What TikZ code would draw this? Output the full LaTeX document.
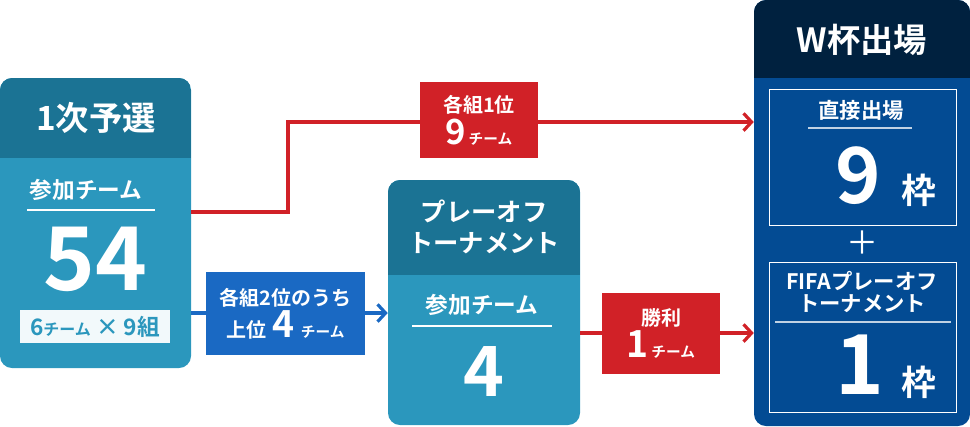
\documentclass[tikz,border=0pt]{standalone}
\usepackage{fontspec}
\setmainfont{Noto Sans CJK JP}[UprightFont=* Bold]
\newfontfamily\thinjp{Noto Sans CJK JP}
\usetikzlibrary{arrows.meta,positioning,calc}
\definecolor{hdrA}{HTML}{1B7394}
\definecolor{bodyA}{HTML}{2B97BD}
\definecolor{hdrW}{HTML}{00213F}
\definecolor{bodyW}{HTML}{034B93}
\definecolor{redL}{HTML}{D12127}
\definecolor{blueL}{HTML}{1A69C3}
\tikzset{
    x=0.75pt,y=-0.75pt,
    stagebox/.style={rounded corners=9pt, fill=bodyA, inner sep=0pt},
    tag/.style={inner sep=0pt, text=white, font=\fontsize{15}{24}\selectfont, align=center},
    txt/.style={text=white, inner sep=0pt, align=center},
    flow/.style={line width=2.4pt, -{Straight Barb[length=6pt,width=13pt,line width=2.4pt]}}
}

\begin{document}
\begin{tikzpicture}
    \useasboundingbox (0,0) rectangle (970,426);
    % stages
    \node[stagebox, minimum width=143.25pt, minimum height=217.5pt,
        path picture={\fill[hdrA, sharp corners] (path picture bounding box.north west) rectangle ([yshift=-60pt]path picture bounding box.north east);}] (first) at (95.5,223) {};
    \node[stagebox, minimum width=144pt, minimum height=183.75pt,
        path picture={\fill[hdrA, sharp corners] (path picture bounding box.north west) rectangle ([yshift=-71.25pt]path picture bounding box.north east);}] (playoff) at (484,302.5) {};
    \node[stagebox, fill=bodyW, minimum width=162pt, minimum height=319.5pt,
        path picture={\fill[hdrW, sharp corners] (path picture bounding box.north west) rectangle ([yshift=-58.5pt]path picture bounding box.north east);}] (wcup) at (862,213) {};

    % first round texts
    \node[txt, font=\fontsize{25}{28}\selectfont] (t1) at (96,118) {1次予選};
    \node[txt, font=\fontsize{17}{20}\selectfont] (p1) at (86,190) {参加チーム};
    \draw[white, line width=0.8pt] (27,210) -- (155,210);
    \node[txt, font=\fontsize{66}{66}\selectfont] (n1) at (95,259) {54};
    \node[fill=white!94!bodyA, text=bodyA, minimum width=112.5pt, minimum height=24.75pt, inner sep=0pt,
        font=\fontsize{17}{18}\selectfont] (grp) at (95,326.5) {6{\fontsize{12}{12}\selectfont チーム} × 9組};

    % playoff texts
    \node[txt, font=\fontsize{19}{23}\selectfont] (t2) at (484,227) {プレーオフ\\トーナメント};
    \node[txt, font=\fontsize{17}{20}\selectfont] (p2) at (482,305) {参加チーム};
    \draw[white, line width=0.8pt] (412,326) -- (552,326);
    \node[txt, font=\fontsize{52}{52}\selectfont] (n2) at (484,371) {4};

    % world cup texts
    \node[txt, font=\fontsize{25}{28}\selectfont] (t3) at (862,40) {W杯出場};
    \node[draw=white, line width=0.6pt, minimum width=140.25pt, minimum height=102pt] (direct) at (862.5,157) {};
    \node[draw=white, line width=0.6pt, minimum width=140.25pt, minimum height=112.5pt] (fifa) at (862.5,337) {};
    \node[txt, font=\fontsize{16}{18}\selectfont] (d1) at (861,110) {直接出場};
    \draw[white!75!bodyW, line width=0.8pt] (808,128) -- (912,128);
    \node[txt, font=\fontsize{58}{58}\selectfont] (n3) at (858,176) {9};
    \node[txt, font=\fontsize{26}{28}\selectfont] (k3) at (919,190) {枠};
    \node[txt, font=\thinjp\fontsize{24}{24}\selectfont] (plus) at (862,243) {＋};
    \node[txt, font=\fontsize{16}{17}\selectfont] (f1) at (862,292) {FIFAプレーオフ\\トーナメント};
    \draw[white!75!bodyW, line width=0.8pt] (775,322) -- (951,322);
    \node[txt, font=\fontsize{62}{62}\selectfont] (n4) at (860,365) {1};
    \node[txt, font=\fontsize{26}{28}\selectfont] (k4) at (919,382) {枠};

    % connectors
    \coordinate (bend1) at (288,212);
    \coordinate (bend2) at (288,122);
    \draw[flow, redL] (first.east |- bend1) -- (bend1) -- (bend2) -- (wcup.west |- bend2);
    \draw[flow, blueL] (first.east |- 0,313) -- (playoff.west |- 0,313);
    \draw[flow, redL] (playoff.east |- 0,333) -- (wcup.west |- 0,333);

    % tags
    \node[tag, fill=redL, minimum width=88.5pt, minimum height=57pt] (win1) at (479,120)
        {各組1位\\{\fontsize{26}{24}\selectfont 9}{\fontsize{11}{12}\selectfont\,チーム}};
    \node[tag, fill=blueL, minimum width=119.25pt, minimum height=62.25pt] (win2) at (285.5,313.5)
        {各組2位のうち\\上位{\fontsize{28}{24}\selectfont\,4\,}{\fontsize{11}{12}\selectfont チーム}};
    \node[tag, fill=redL, minimum width=88.5pt, minimum height=60.75pt] (win3) at (661,333.5)
        {勝利\\{\fontsize{28}{24}\selectfont 1}{\fontsize{11}{12}\selectfont\,チーム}};
\end{tikzpicture}
\end{document}
